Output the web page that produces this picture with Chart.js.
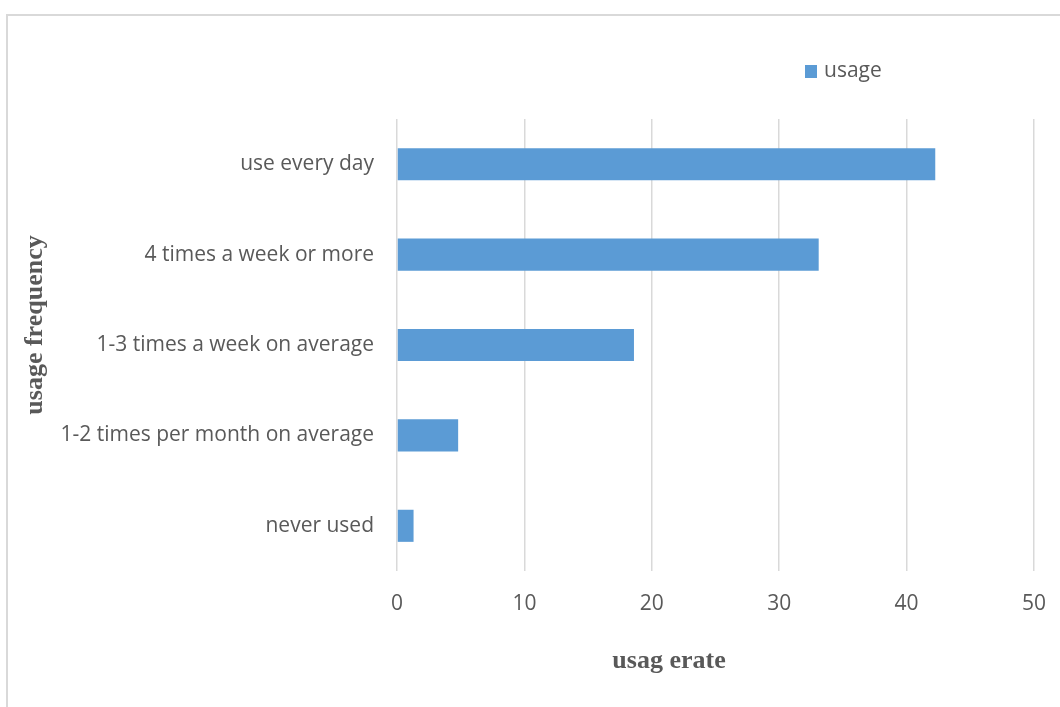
<!DOCTYPE html>
<html lang="en">
<head>
    <meta charset="UTF-8">
    <title>usage frequency</title>
    <style>
        html, body { margin: 0; padding: 0; background: #fff; }
        #frame {
            position: absolute; left: 6px; top: 14px;
            width: 1070px; height: 720px;
            border: 2px solid #d9d9d9;
        }
        #myChart { position: absolute; left: 0; top: 0; }
    </style>
</head>
<body>
    <div id="frame"></div>
    <canvas id="myChart" width="1060" height="707"></canvas>

    <script src="https://cdn.jsdelivr.net/npm/chart.js"></script>

    <script>
        const categories = ['use every day', '4 times a week or more', '1-3 times a week on average', '1-2 times per month on average', 'never used']
        const usage = [42.25, 33.1, 18.6, 4.8, 1.3]
        const xTicks = [0, 10, 20, 30, 40, 50]
        const seriesName = 'usage'
        const xTitle = 'usag erate'
        const yTitle = 'usage frequency'

        const grey = '#595959'
        const barColor = '#5b9bd5'
        const tickFont = { family: '"Open Sans", sans-serif', size: 21 }
        const titleFont = 'bold 26px "Liberation Serif", "Times New Roman", serif'

        // legend and axis titles are painted by hand so they sit where Excel put them
        const extras = {
            id: 'extras',
            afterDraw(chart) {
                const c = chart.ctx
                c.save()
                c.fillStyle = grey
                c.font = titleFont
                c.textAlign = 'center'
                c.textBaseline = 'middle'
                c.fillText(xTitle, 669, 661)
                c.translate(35, 325)
                c.rotate(-Math.PI / 2)
                c.fillText(yTitle, 0, 0)
                c.restore()

                c.save()
                c.fillStyle = chart.data.datasets[0].backgroundColor
                c.fillRect(805, 65, 12, 13)
                c.fillStyle = grey
                c.font = '21px "Open Sans", sans-serif'
                c.textAlign = 'left'
                c.textBaseline = 'middle'
                c.fillText(chart.data.datasets[0].label, 824, 71)
                c.restore()
            }
        }

        var ctx = document.getElementById('myChart')
        var myChart = new Chart(ctx, {
            type: 'bar',
            data: {
                labels: categories,
                datasets: [{
                    label: seriesName,
                    data: usage,
                    backgroundColor: barColor,
                    borderWidth: 0,
                    categoryPercentage: 1,
                    barPercentage: 0.355
                }]
            },
            options: {
                indexAxis: 'y',
                responsive: false,
                animation: false,
                layout: { padding: { top: 119, right: 26, left: 0, bottom: 0 } },
                plugins: {
                    legend: { display: false },
                    tooltip: { enabled: false }
                },
                scales: {
                    x: {
                        min: xTicks[0],
                        max: xTicks[xTicks.length - 1],
                        afterBuildTicks: (scale) => { scale.ticks = xTicks.map(v => ({ value: v })) },
                        afterFit: (scale) => {
                            scale.height = 136
                            scale.paddingLeft = 0
                            scale.paddingRight = 0
                        },
                        grid: { color: '#d9d9d9', lineWidth: 1.5, drawTicks: false },
                        border: { display: false },
                        ticks: { color: grey, font: tickFont, padding: 20 }
                    },
                    y: {
                        afterFit: (scale) => { scale.width = 397 },
                        grid: { display: false, drawTicks: false },
                        border: { display: false },
                        ticks: { color: grey, font: tickFont, padding: 23 }
                    }
                }
            },
            plugins: [extras]
        })
    </script>
</body>
</html>
